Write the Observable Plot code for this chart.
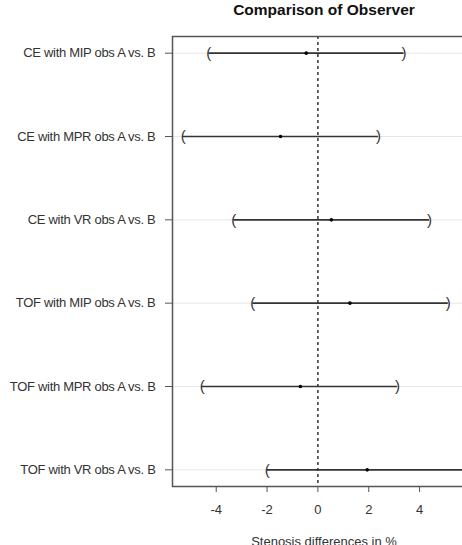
<!DOCTYPE html>
<html>
<head>
<meta charset="utf-8">
<script src="https://cdn.jsdelivr.net/npm/d3@7"></script>
<script src="https://cdn.jsdelivr.net/npm/@observablehq/plot@0.6"></script>
<style>
  html, body { margin: 0; padding: 0; overflow: hidden; background: #fff; }
  #chart { width: 462px; height: 545px; overflow: hidden; }
  #chart svg { max-width: none !important; }
</style>
</head>
<body>
<div id="chart"></div>
<script>
const title = "Comparison of Observer";
const xLabel = "Stenosis differences in %";
const labels = [
  "CE with MIP obs A vs. B",
  "CE with MPR obs A vs. B",
  "CE with VR obs A vs. B",
  "TOF with MIP obs A vs. B",
  "TOF with MPR obs A vs. B",
  "TOF with VR obs A vs. B"
];
const lower = [-4.29, -5.30, -3.31, -2.56, -4.55, -1.99];
const mean  = [-0.46, -1.47,  0.53,  1.26, -0.69,  1.94];
const upper = [ 3.39,  2.38,  4.39,  5.13,  3.13,  5.87];
const xTicks = [-4, -2, 0, 2, 4];

const rows = labels.map((label, i) => ({
  label, pos: i + 1, lower: lower[i], mean: mean[i], upper: upper[i]
}));
const positions = rows.map(d => d.pos);

const ink = "#333";
const chart = Plot.plot({
  width: 476,
  height: 545,
  marginLeft: 172,
  marginRight: 1,
  marginTop: 36,
  marginBottom: 59,
  style: { fontFamily: "'Liberation Sans', Arial, sans-serif", fontSize: "13px", color: ink, background: "#fff", overflow: "visible", maxWidth: "none" },
  x: { domain: [-5.72, 6.2] },
  y: { domain: [0.8, 6.2], reverse: true },
  marks: [
    Plot.ruleY(positions, { stroke: "#e6e6e6", strokeWidth: 1 }),
    Plot.ruleX([0], { stroke: ink, strokeWidth: 1.5, strokeDasharray: "3,3" }),
    Plot.ruleY(rows, { y: "pos", x1: "lower", x2: "upper", stroke: ink, strokeWidth: 1.6 }),
    Plot.text(rows, { x: "lower", y: "pos", text: () => "(", fontSize: 15, fill: ink }),
    Plot.text(rows, { x: "upper", y: "pos", text: () => ")", fontSize: 15, fill: ink }),
    Plot.dot(rows, { x: "mean", y: "pos", r: 1.8, fill: "#000", stroke: null }),
    Plot.frame({ stroke: "#555", strokeWidth: 1.5 }),
    Plot.axisY({
      ticks: positions,
      tickFormat: p => labels[p - 1],
      tickSize: 7,
      tickPadding: 10,
      label: null,
      stroke: "#555",
      fontSize: 13,
      fill: ink
    }),
    Plot.axisX({
      ticks: xTicks,
      tickFormat: d => String(d).replace("−", "-"),
      tickSize: 6,
      tickPadding: 12,
      label: null,
      stroke: "#555",
      fontSize: 13,
      fill: ink
    }),
    Plot.text([title], { frameAnchor: "top", lineAnchor: "bottom", dy: -22, fontSize: 15.5, fontWeight: "bold", fill: "#111" }),
    Plot.text([xLabel], { frameAnchor: "bottom", lineAnchor: "top", dy: 50, fontSize: 13, fill: ink })
  ]
});
chart.querySelectorAll("g[aria-label='y-axis tick label']").forEach(t => t.setAttribute("letter-spacing", "-0.3"));
document.getElementById("chart").appendChild(chart);
</script>
</body>
</html>
